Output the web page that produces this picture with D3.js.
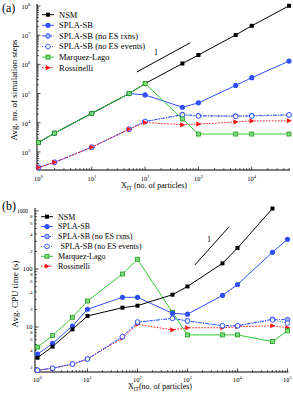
<!DOCTYPE html>
<html>
<head>
<meta charset="utf-8">
<script src="https://cdn.jsdelivr.net/npm/d3@7"></script>
<style>
  body { margin: 0; background: #fff; }
  svg { display: block; }
  text { font-family: "Liberation Serif", "Times New Roman", serif; fill: #000; }
</style>
</head>
<body>
<svg id="chart" width="293" height="394"></svg>
<script>
// ---- data ----
const seriesNames = ["NSM", "SPLA-SB", "SPLA-SB (no ES rxns)", "SPLA-SB (no ES events)", "Marquez-Lago", "Rossinelli"];

// panel (a): average number of simulation steps
const stepsX = [1, 2, 10, 50, 100, 500, 1000, 5000, 10000, 50000];
const stepsNSM = [2100, 4400, 21000, 100000, 220000, 1070000, 2100000, 10200000, 21000000, 102000000];
const stepsSPLA = [2100, 4400, 21000, 100000, 90000, 34000, 48000, 190000, 350000, 1300000];
const stepsNoRxns = [295, 440, 1450, 6000, 11000, 19000, 17500, 17000, 17500, 18500];
const stepsNoEvents = [295, 440, 1450, 6000, 11000, 18500, 17000, 16500, 17000, 18500];
const stepsMarquez = [2100, 4400, 21000, 100000, 220000, 13500, 4100, 4100, 4100, 4100];
const stepsRoss = [295, 440, 1450, 6000, 10200, 8500, 9000, 10700, 11500, 11700];
const stepsXTicks = [1, 10, 100, 1000, 10000];
const stepsYTicks = [1e3, 1e4, 1e5, 1e6, 1e7, 1e8];

// panel (b): average CPU time (s)
const cpuX = [1, 2, 5, 10, 50, 100, 500, 1000, 5000, 10000, 50000, 100000];
const cpuNSM = [2.95, 4.6, 9.1, 15.5, 21.5, 23.3, 36, 50, 125, 230, 1100, null];
const cpuSPLA = [3.4, 5.2, 10.4, 20.2, 32.5, 32.5, 17.2, 16.6, 35, 54, 194, 325];
const cpuNoRxns = [1.8, 1.94, 2.3, 2.8, 6.8, 12, 14.1, 12.7, 10.5, 10.5, 13.6, 13.4];
const cpuNoEvents = [1.8, 1.94, 2.3, 2.8, 6.8, 12.2, 14.1, 12.7, 10.5, 10.5, 13.2, 11.6];
const cpuMarquez = [4.5, 7.1, 14.7, 28, 82, 147, 17.9, 7.3, 7.3, 7.3, 5.6, 8.6];
const cpuRoss = [1.8, 1.94, 2.3, 2.8, 6.4, 11.1, 8.9, 9.7, 9.7, 10.1, 10.5, 9.7];
const cpuXTicks = [1, 10, 100, 1000, 10000, 100000];
const cpuYMajor = [10, 100, 1000];
const cpuYMinorLabels = [2, 4, 6, 8];

// ---- styles ----
const BLUE = "#3050ff", GREEN = "#33cc33", RED = "#ff1010";
const styles = {
    "NSM": { color: "#000", dash: null, marker: "square" },
    "SPLA-SB": { color: BLUE, dash: null, marker: "circle" },
    "SPLA-SB (no ES rxns)": { color: BLUE, dash: "3,1.5,1,1.5", marker: "hatched" },
    "SPLA-SB (no ES events)": { color: BLUE, dash: "1,1.5", marker: "open" },
    "Marquez-Lago": { color: GREEN, dash: null, marker: "green" },
    "Rossinelli": { color: RED, dash: "1.5,1.5", marker: "tri" }
};

const svg = d3.select("#chart");

function drawMarker(g, type, x, y) {
    if (type === "square") {
        g.append("rect").attr("x", x - 2).attr("y", y - 2).attr("width", 4).attr("height", 4).attr("fill", "#000");
    } else if (type === "circle") {
        g.append("circle").attr("cx", x).attr("cy", y).attr("r", 2.6).attr("fill", BLUE);
    } else if (type === "hatched") {
        g.append("circle").attr("cx", x).attr("cy", y).attr("r", 2.3)
            .attr("fill", "#9fb2ff").attr("stroke", BLUE).attr("stroke-width", 0.9);
    } else if (type === "open") {
        g.append("circle").attr("cx", x).attr("cy", y).attr("r", 2.3)
            .attr("fill", "#fff").attr("stroke", BLUE).attr("stroke-width", 0.9);
    } else if (type === "green") {
        g.append("rect").attr("x", x - 2).attr("y", y - 2).attr("width", 4).attr("height", 4)
            .attr("fill", "#7ddc7d").attr("stroke", "#1f9a1f").attr("stroke-width", 0.8);
    } else if (type === "tri") {
        g.append("path").attr("d", `M ${x - 2.2} ${y - 2.6} L ${x + 2.8} ${y} L ${x - 2.2} ${y + 2.6} Z`).attr("fill", RED);
    }
}

// log minor tick values inside a domain
function minorTicks(domain) {
    const out = [];
    const lo = Math.floor(Math.log10(domain[0])), hi = Math.ceil(Math.log10(domain[1]));
    for (let k = lo; k <= hi; k++) {
        for (let m = 2; m <= 9; m++) {
            const v = m * Math.pow(10, k);
            if (v >= domain[0] && v <= domain[1]) out.push(v);
        }
    }
    return out;
}

function powLabel(g, x, y, exp, size, anchor) {
    const t = g.append("text").attr("x", x).attr("y", y).attr("font-size", size).attr("text-anchor", anchor);
    t.append("tspan").text("10");
    t.append("tspan").attr("font-size", size * 0.7).attr("dy", -size * 0.45).text(exp);
    return t;
}

function drawPanel(p) {
    const g = svg.append("g");
    const x = d3.scaleLog().domain(p.xDomain).range(p.xRange);
    const y = d3.scaleLog().domain(p.yDomain).range(p.yRange);
    const x0 = p.axisX, yb = p.yRange[0], yt = p.yRange[1];

    // axes lines
    g.append("line").attr("x1", x0).attr("x2", x0).attr("y1", yt).attr("y2", yb).attr("stroke", "#000").attr("stroke-width", 1);
    g.append("line").attr("x1", x0).attr("x2", p.xRange[1] + 1).attr("y1", yb).attr("y2", yb).attr("stroke", "#000").attr("stroke-width", 1.2);

    // x ticks (inward)
    minorTicks(x.domain()).forEach(v => {
        g.append("line").attr("x1", x(v)).attr("x2", x(v)).attr("y1", yb).attr("y2", yb - 2).attr("stroke", "#000").attr("stroke-width", 0.6);
    });
    p.xTicks.forEach(v => {
        g.append("line").attr("x1", x(v)).attr("x2", x(v)).attr("y1", yb).attr("y2", yb - 3.5).attr("stroke", "#000").attr("stroke-width", 0.7);
        powLabel(g, x(v), p.xTickY, Math.round(Math.log10(v)), 6.5, "middle");
    });

    // y ticks (inward)
    minorTicks(y.domain()).forEach(v => {
        g.append("line").attr("x1", x0).attr("x2", x0 + 2).attr("y1", y(v)).attr("y2", y(v)).attr("stroke", "#000").attr("stroke-width", 0.6);
    });
    if (p.cpuLabels) {
        cpuYMajor.forEach(v => {
            g.append("line").attr("x1", x0).attr("x2", x0 + 3.5).attr("y1", y(v)).attr("y2", y(v)).attr("stroke", "#000").attr("stroke-width", 0.7);
            g.append("text").attr("x", v === 1000 ? x0 - 7 : x0 - 2.5).attr("y", y(v) + 2).attr("font-size", v === 1000 ? 5.5 : 6.5)
                .attr("text-anchor", "end").text(v);
        });
        minorTicks(y.domain()).forEach(v => {
            const m = Math.round(v / Math.pow(10, Math.floor(Math.log10(v) + 1e-9)));
            if (cpuYMinorLabels.includes(m)) {
                g.append("text").attr("x", x0 - 2.5).attr("y", y(v) + 1.6).attr("font-size", 4.5)
                    .attr("text-anchor", "end").text(m);
            }
        });
    } else {
        p.yTicks.forEach(v => {
            g.append("line").attr("x1", x0).attr("x2", x0 + 3.5).attr("y1", y(v)).attr("y2", y(v)).attr("stroke", "#000").attr("stroke-width", 0.7);
            powLabel(g, x0 - 11, y(v) + 3, Math.round(Math.log10(v)), 6.5, "middle");
        });
    }

    // series
    const line = d3.line().defined(d => d[1] != null).x(d => x(d[0])).y(d => y(d[1]));
    p.order.forEach(name => {
        const st = styles[name];
        const pts = p.xs.map((xv, i) => [xv, p.series[name][i]]);
        g.append("path").attr("d", line(pts)).attr("fill", "none").attr("stroke", st.color)
            .attr("stroke-width", 1).attr("stroke-dasharray", st.dash);
    });
    p.order.forEach(name => {
        const st = styles[name];
        p.xs.forEach((xv, i) => {
            const v = p.series[name][i];
            if (v != null) drawMarker(g, st.marker, x(xv), y(v));
        });
    });

    // slope-1 guide
    g.append("line").attr("x1", x(p.slope[0][0])).attr("y1", y(p.slope[0][1]))
        .attr("x2", x(p.slope[1][0])).attr("y2", y(p.slope[1][1])).attr("stroke", "#000").attr("stroke-width", 1);
    g.append("text").attr("x", x(p.slopeLabel[0])).attr("y", y(p.slopeLabel[1])).attr("font-size", 8)
        .attr("font-family", "Liberation Sans, Arial, sans-serif").attr("text-anchor", "middle").text("1");

    // legend
    seriesNames.forEach((name, i) => {
        const st = styles[name];
        const ly = p.legend.y + i * p.legend.dy;
        g.append("line").attr("x1", p.legend.x).attr("x2", p.legend.x + 12).attr("y1", ly).attr("y2", ly)
            .attr("stroke", st.color).attr("stroke-width", 1).attr("stroke-dasharray", st.dash);
        drawMarker(g, st.marker, p.legend.x + 6, ly);
        g.append("text").attr("x", p.legend.x + 17 + (p.legend.extra && i === 3 ? 2.5 : 0)).attr("y", ly + 2.8)
            .attr("font-size", p.legend.size).text(name);
    });

    // labels
    g.append("text").attr("x", 2).attr("y", p.tagY).attr("font-size", 12).text(p.tag);
    g.append("text").attr("transform", `translate(${p.yLabel[0]},${p.yLabel[1]}) rotate(-90)`)
        .attr("text-anchor", "middle").attr("font-size", 9).text(p.yTitle);
    const xl = g.append("text").attr("x", p.xLabel[0]).attr("y", p.xLabel[1]).attr("text-anchor", "middle").attr("font-size", 8);
    xl.append("tspan").text("X");
    xl.append("tspan").attr("font-size", 5.5).attr("dy", 2).text("IT");
    xl.append("tspan").attr("dy", -2).text(p.xGap + "(no. of particles)");
}

drawPanel({
    tag: "(a)", tagY: 12,
    xs: stepsX,
    series: {
        "NSM": stepsNSM, "SPLA-SB": stepsSPLA, "SPLA-SB (no ES rxns)": stepsNoRxns,
        "SPLA-SB (no ES events)": stepsNoEvents, "Marquez-Lago": stepsMarquez, "Rossinelli": stepsRoss
    },
    order: ["SPLA-SB (no ES rxns)", "SPLA-SB (no ES events)", "Rossinelli", "SPLA-SB", "NSM", "Marquez-Lago"],
    xDomain: [1, 50000], xRange: [38.5, 289], axisX: 37,
    yDomain: [Math.pow(10, 2.38), Math.pow(10, 8.07)], yRange: [170, 4],
    xTicks: stepsXTicks, yTicks: stepsYTicks, xTickY: 181,
    slope: [[70, 5.5e5], [700, 5.5e6]], slopeLabel: [160, 2.1e6],
    legend: { x: 42, y: 14.7, dy: 10.6, size: 8.5 },
    yTitle: "Avg. no. of simulation steps", yLabel: [17, 90],
    xLabel: [154, 188], xGap: " "
});

drawPanel({
    tag: "(b)", tagY: 210,
    xs: cpuX,
    series: {
        "NSM": cpuNSM, "SPLA-SB": cpuSPLA, "SPLA-SB (no ES rxns)": cpuNoRxns,
        "SPLA-SB (no ES events)": cpuNoEvents, "Marquez-Lago": cpuMarquez, "Rossinelli": cpuRoss
    },
    order: ["Rossinelli", "SPLA-SB (no ES rxns)", "SPLA-SB (no ES events)", "Marquez-Lago", "SPLA-SB", "NSM"],
    xDomain: [1, 100000], xRange: [37.5, 287.5], axisX: 35,
    yDomain: [1.675, 1125], yRange: [372, 208],
    xTicks: cpuXTicks, xTickY: 382, cpuLabels: true,
    slope: [[1400, 117], [6800, 535]], slopeLabel: [2700, 290],
    legend: { x: 41, y: 216.7, dy: 9.9, size: 8, extra: true },
    yTitle: "Avg. CPU time (s)", yLabel: [18, 294],
    xLabel: [160, 389], xGap: ""
});
</script>
</body>
</html>
